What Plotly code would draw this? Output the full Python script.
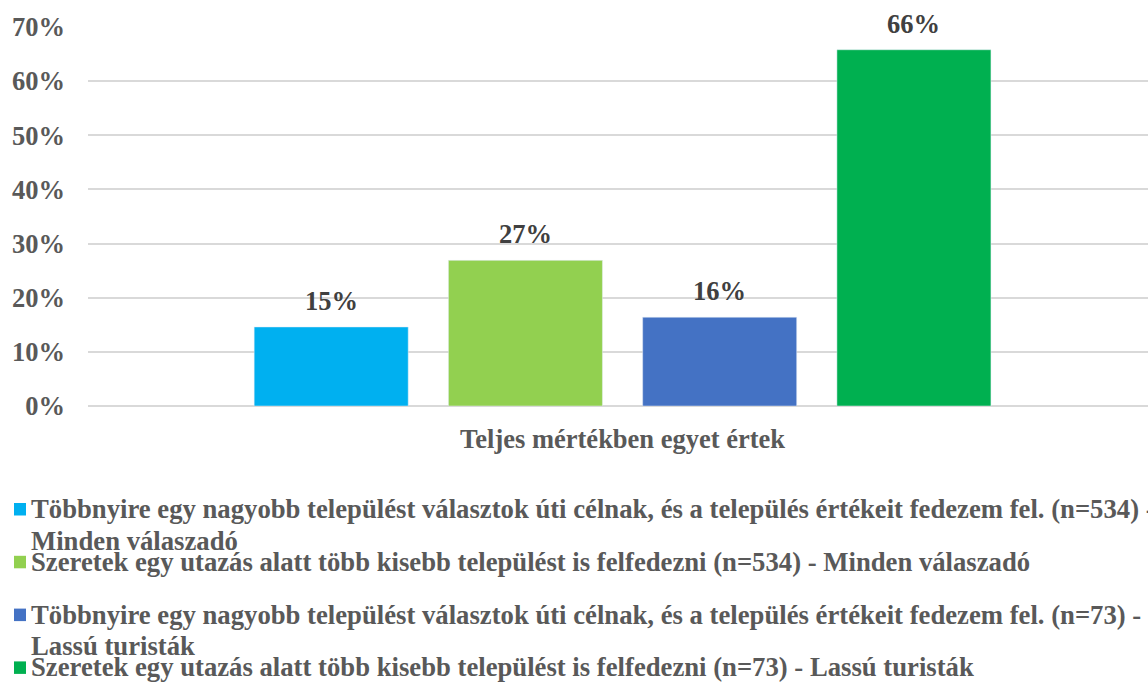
import plotly.graph_objects as go

category = ["Teljes mértékben egyet értek"]
series_names = [
    "Többnyire egy nagyobb települést választok úti célnak, és a település értékeit fedezem fel. (n=534) - Minden válaszadó",
    "Szeretek egy utazás alatt több kisebb települést is felfedezni (n=534) - Minden válaszadó",
    "Többnyire egy nagyobb települést választok úti célnak, és a település értékeit fedezem fel. (n=73) - Lassú turisták",
    "Szeretek egy utazás alatt több kisebb települést is felfedezni (n=73) - Lassú turisták",
]
# legend text as it wraps in the reference
legend_lines = [
    ["Többnyire egy nagyobb települést választok úti célnak, és a település értékeit fedezem fel. (n=534) -",
     "Minden válaszadó"],
    ["Szeretek egy utazás alatt több kisebb települést is felfedezni (n=534) - Minden válaszadó"],
    ["Többnyire egy nagyobb települést választok úti célnak, és a település értékeit fedezem fel. (n=73) -",
     "Lassú turisták"],
    ["Szeretek egy utazás alatt több kisebb települést is felfedezni (n=73) - Lassú turisták"],
]
values = [14.6, 26.9, 16.4, 65.8]
colors = ["#00B0F0", "#92D050", "#4472C4", "#00B050"]
y_ticks = [0, 10, 20, 30, 40, 50, 60, 70]
y_tick_labels = ["0%", "10%", "20%", "30%", "40%", "50%", "60%", "70%"]

FONT = "Liberation Serif, Times New Roman, serif"
FS = 26.5
FS_LEG = 26.7
W, H = 1148, 682
ML, MR, MT, MB = 88, 0, 27, 276
BARGAP, GROUPGAP = 0.267, 0.207

fig = go.Figure()
for name, v, c in zip(series_names, values, colors):
    fig.add_trace(go.Bar(
        x=category, y=[v], name=name, marker_color=c,
        cliponaxis=False, showlegend=False,
        hovertemplate="%{y:.1f}%<extra></extra>",
    ))

pw, ph = W - ML - MR, H - MT - MB
slot_px = pw * (1 - BARGAP) / len(values)

# value labels above each bar
for i, v in enumerate(values):
    fig.add_annotation(
        x=category[0], y=v, xref="x", yref="y",
        xshift=(i - (len(values) - 1) / 2) * slot_px, yshift=9,
        xanchor="center", yanchor="bottom", showarrow=False,
        text=f"{v:.0f}%",
        font=dict(family=FONT, size=FS, color="#404040", weight="bold"),
    )

# custom legend (Excel-style, equal-height entries, first-line aligned markers)
def px(x):
    return (x - ML) / pw
def py(y):
    return (H - MB - y) / ph

entry_top = 492      # pixel top of first legend entry
entry_pitch = 52.8
line_pitch = 31.5
for i, (lines, c) in enumerate(zip(legend_lines, colors)):
    top = entry_top + i * entry_pitch
    for j, line in enumerate(lines):
        fig.add_annotation(
            xref="paper", yref="paper", x=px(29), y=py(top + j * line_pitch),
            xanchor="left", yanchor="top", align="left", showarrow=False,
            text=line,
            font=dict(family=FONT, size=FS_LEG, color="#595959", weight="bold"),
        )
    sq_top = top + 11
    fig.add_shape(
        type="rect", xref="paper", yref="paper",
        x0=px(14), x1=px(26), y0=py(sq_top), y1=py(sq_top + 12.5),
        fillcolor=c, line=dict(width=0),
    )

fig.update_layout(
    width=W, height=H,
    paper_bgcolor="white", plot_bgcolor="white",
    margin=dict(l=ML, r=MR, t=MT, b=MB, autoexpand=False),
    barmode="group", bargap=BARGAP, bargroupgap=GROUPGAP,
    font=dict(family=FONT, color="#595959"),
    showlegend=False,
)
fig.update_yaxes(
    range=[0, 70], tickvals=y_ticks, ticktext=y_tick_labels,
    showgrid=True, gridcolor="#D9D9D9", gridwidth=1.5,
    zeroline=True, zerolinecolor="#D9D9D9", zerolinewidth=1.5,
    showline=False, ticks="", ticklabelstandoff=22,
    tickfont=dict(family=FONT, size=FS, color="#595959", weight="bold"),
)
fig.update_xaxes(
    range=[-0.5043, 0.4957],
    showgrid=False, showline=False, ticks="", ticklabelstandoff=14,
    tickfont=dict(family=FONT, size=FS, color="#595959", weight="bold"),
)

fig.write_html("out.html", config={"displayModeBar": False},
               post_script="document.body.style.margin='0';")
